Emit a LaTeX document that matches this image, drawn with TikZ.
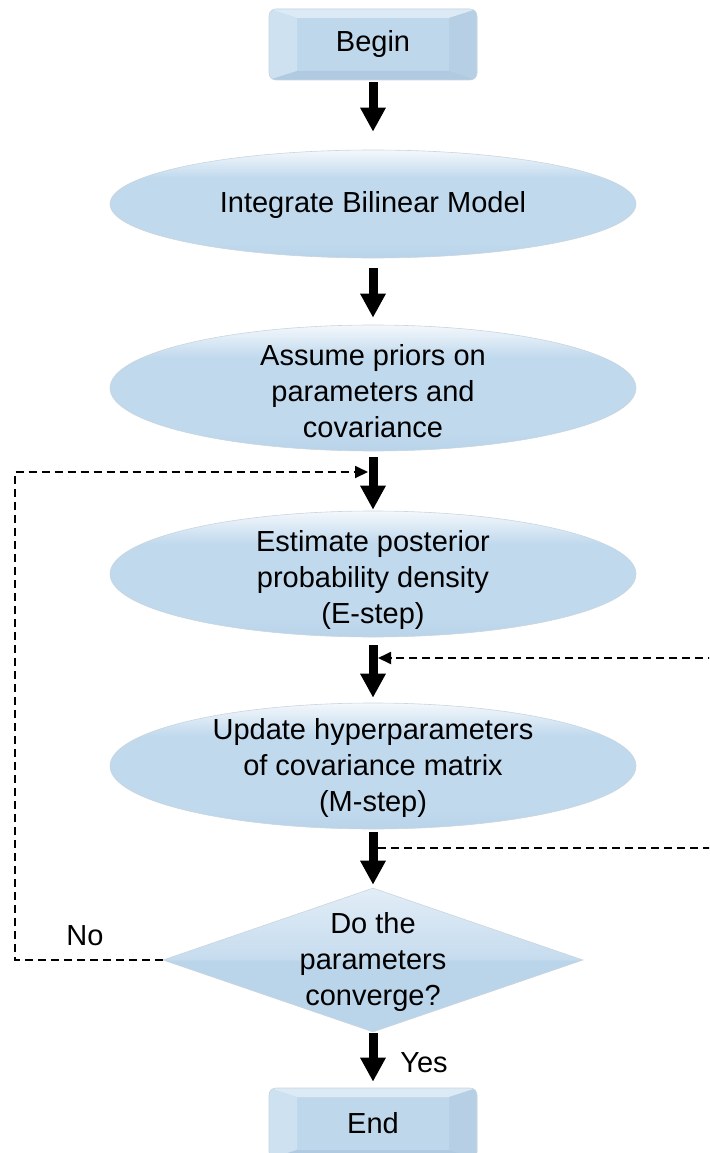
\documentclass[tikz,border=0pt]{standalone}
\usepackage{fontspec}
\setmainfont{Liberation Sans}
\usetikzlibrary{arrows.meta,shapes.geometric}

\definecolor{boxface}{HTML}{BFD7EB}
\definecolor{bevtop}{HTML}{DCEAF5}
\definecolor{bevleft}{HTML}{CEE1F0}
\definecolor{bevright}{HTML}{B6CFE4}
\definecolor{bevbottom}{HTML}{AFCAE1}
\definecolor{ovaltop}{HTML}{F4F8FC}
\definecolor{ovalmid}{HTML}{C0D9ED}
\definecolor{ovalbot}{HTML}{B9D3E9}
\definecolor{diatop}{HTML}{E2EDF7}
\definecolor{diamid}{HTML}{C6DCEE}
\definecolor{diabot}{HTML}{BAD4EA}
\definecolor{rimline}{HTML}{C9D5DF}

% bright rim on top, even blue body
\pgfdeclareverticalshading{ovalshade}{100bp}{%
  color(0bp)=(ovalbot); color(25bp)=(ovalbot); color(32bp)=(ovalmid);
  color(62bp)=(ovalmid); color(75bp)=(ovaltop); color(100bp)=(ovaltop)}
% lighter upper facets, darker lower facets
\pgfdeclareverticalshading{diashade}{100bp}{%
  color(0bp)=(diabot); color(49.6bp)=(diabot); color(50.4bp)=(diamid);
  color(75bp)=(diatop); color(100bp)=(diatop)}

\begin{document}
\begin{tikzpicture}[x=1pt,y=-1pt,
  txt/.style={font=\fontsize{29}{36}\selectfont, align=center, inner sep=0pt},
  boxnode/.style={txt, rounded corners=7pt, minimum width=208pt, minimum height=71pt,
    fill=boxface, draw=rimline, line width=0.6pt,
    path picture={
      \fill[bevtop, sharp corners] (path picture bounding box.north west) -- (path picture bounding box.north east)
        -- ([shift={(-28pt,-9pt)}]path picture bounding box.north east)
        -- ([shift={(28pt,-9pt)}]path picture bounding box.north west) -- cycle;
      \fill[bevleft, sharp corners] (path picture bounding box.north west) -- ([shift={(28pt,-9pt)}]path picture bounding box.north west)
        -- ([shift={(28pt,9pt)}]path picture bounding box.south west) -- (path picture bounding box.south west) -- cycle;
      \fill[bevright, sharp corners] (path picture bounding box.north east) -- ([shift={(-28pt,-9pt)}]path picture bounding box.north east)
        -- ([shift={(-28pt,9pt)}]path picture bounding box.south east) -- (path picture bounding box.south east) -- cycle;
      \fill[bevbottom, sharp corners] (path picture bounding box.south west) -- ([shift={(28pt,9pt)}]path picture bounding box.south west)
        -- ([shift={(-28pt,9pt)}]path picture bounding box.south east) -- (path picture bounding box.south east) -- cycle;
    }},
  ovalnode/.style={ellipse, inner sep=0pt, minimum width=526pt, minimum height=126pt,
    shading=ovalshade, draw=rimline, line width=0.6pt},
  decision/.style={diamond, inner sep=0pt, minimum width=420pt, minimum height=144pt,
    shading=diashade, draw=rimline, line width=0.6pt},
  bigarrow/.style={line width=9pt, -{Triangle[width=24pt,length=24pt]}},
  loopline/.style={line width=1.8pt, dash pattern=on 8pt off 5pt}
]
\useasboundingbox (0,0) rectangle (709,1153);

% process shapes
\node[boxnode] (begin) at (373,44.5) {Begin};

\node[ovalnode, minimum height=108pt] (e1) at (373,204) {};
\node[txt] (t1) at (373,205) {Integrate Bilinear Model};

\node[ovalnode] (e2) at (373,388) {};
\node[txt] (t2) at (373,391) {Assume priors on\\parameters and\\covariance};

\node[ovalnode] (e3) at (373,574) {};
\node[txt] (t3) at (373,580) {Estimate posterior\\probability density\\(E-step)};

\node[ovalnode] (e4) at (373,766) {};
\node[txt] (t4) at (373,768) {Update hyperparameters\\of covariance matrix\\(M-step)};

\node[decision] (d) at (373,960) {};
\node[txt] (td) at (373,962) {Do the\\parameters\\converge?};

\node[boxnode] (end) at (373,1123.5) {End};

% main flow
\draw[bigarrow, shorten <=2pt, shorten >=18pt] (begin) -- (e1);
\draw[bigarrow, shorten <=10pt, shorten >=7pt] (e1) -- (e2);
\draw[bigarrow, shorten <=6pt, shorten >=1pt] (e2) -- (e3);
\draw[bigarrow, shorten <=8pt, shorten >=5pt] (e3) -- (e4);
\draw[bigarrow, shorten <=3pt, shorten >=3pt] (e4) -- (d);
\draw[bigarrow, shorten <=1pt, shorten >=6pt] (d) -- (end);

% junctions on the arrow shafts
\coordinate (j1) at (368,472);
\coordinate (j2) at (378,848);
\coordinate (j3) at (378,658);

% feedback loops
\begin{scope}
  \clip (0,0) rectangle (709,1153);
  \draw[loopline, -{Triangle[width=12pt,length=13pt]}] (d.west) -- ++(-148,0) |- (j1);
  \draw[loopline, -{Triangle[width=12pt,length=13pt]}] (j2) -- ++(334,0) |- (j3);
\end{scope}

% branch labels
\node[txt] (no) at (85,936) {No};
\node[txt] (yes) at (424,1063) {Yes};
\end{tikzpicture}
\end{document}
